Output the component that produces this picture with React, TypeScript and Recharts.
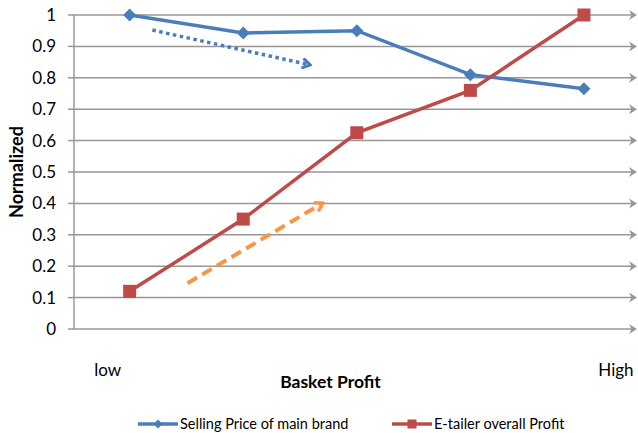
import { LineChart, Line, XAxis, YAxis, CartesianGrid, Legend, Label } from "recharts";

const categories = ["low", "", "", "", "High"];
const sellingPrice = [1, 0.943, 0.95, 0.81, 0.765];
const etailerProfit = [0.12, 0.35, 0.625, 0.76, 1];
const yTicks = [0, 0.1, 0.2, 0.3, 0.4, 0.5, 0.6, 0.7, 0.8, 0.9, 1];

// trend arrows drawn over the chart
const priceTrendX = [0.2, 1.59];
const priceTrendY = [0.952, 0.841];
const profitTrendX = [0.51, 1.7];
const profitTrendY = [0.146, 0.401];

const BLUE = "#4a7ebb";
const RED = "#be4b48";
const ORANGE = "#f79646";
const GRID = "#979797";
const FONT = "Lato, 'Liberation Sans', sans-serif";

const data = categories.map((c, i) => ({
  x: i,
  name: c,
  price: sellingPrice[i],
  profit: etailerProfit[i],
}));
const priceTrend = priceTrendX.map((x, i) => ({ x, y: priceTrendY[i] }));
const profitTrend = profitTrendX.map((x, i) => ({ x, y: profitTrendY[i] }));

const Diamond = (props: any) => {
  const { cx, cy } = props;
  if (cx == null || cy == null) return null;
  const r = 6.5;
  return (
    <polygon
      points={`${cx},${cy - r} ${cx + r},${cy} ${cx},${cy + r} ${cx - r},${cy}`}
      fill={BLUE}
    />
  );
};

const Square = (props: any) => {
  const { cx, cy } = props;
  if (cx == null || cy == null) return null;
  const r = 6.5;
  return <rect x={cx - r} y={cy - r} width={r * 2} height={r * 2} fill={RED} />;
};

const GridLine = (props: any) => {
  const { x1, y1, x2, y2 } = props;
  return (
    <g key={props.key ?? `${y1}`}>
      <line x1={x1} y1={y1} x2={x2 - 3} y2={y2} stroke={GRID} strokeWidth={1.5} />
      <polygon
        points={`${x2},${y2} ${x2 - 8},${y2 - 5} ${x2 - 5.5},${y2} ${x2 - 8},${y2 + 5}`}
        fill={GRID}
      />
    </g>
  );
};

const XTick = (props: any) => {
  const { x, y, payload } = props;
  const label = categories[payload.value] ?? "";
  const dx = payload.value === 0 ? -22 : 32;
  return (
    <text x={x + dx} y={y + 39} textAnchor="middle" fontFamily={FONT} fontSize={17} fill="#000">
      {label}
    </text>
  );
};

const LegendContent = () => {
  const items = [
    { name: "Selling Price of main brand", color: BLUE, shape: "diamond" },
    { name: "E-tailer overall Profit", color: RED, shape: "square" },
  ];
  return (
    <div style={{ display: "flex", paddingLeft: 138, fontFamily: FONT, fontSize: 14.5, color: "#000" }}>
      {items.map((it, i) => (
        <div key={it.name} style={{ display: "flex", alignItems: "center", width: i === 0 ? 254 : "auto" }}>
          <svg width={40} height={12} style={{ marginRight: 2 }}>
            <line x1={0} y1={6} x2={40} y2={6} stroke={it.color} strokeWidth={3.5} />
            {it.shape === "diamond" ? (
              <polygon points="20,1.5 24.5,6 20,10.5 15.5,6" fill={it.color} />
            ) : (
              <rect x={15.5} y={1.5} width={9} height={9} fill={it.color} />
            )}
          </svg>
          <span>{it.name}</span>
        </div>
      ))}
    </div>
  );
};

export default function App() {
  return (
    <div style={{ position: "absolute", left: 0, top: 0, width: 638, height: 433, background: "#fff" }}>
      <LineChart width={638} height={433} margin={{ top: 15, right: 1, bottom: 0, left: 0 }}>
        <defs>
          <marker id="arrowBlue" viewBox="0 0 12 12" refX={10} refY={6} markerWidth={12} markerHeight={12}
            markerUnits="userSpaceOnUse" orient="auto">
            <path d="M2,1 L10,6 L2,11" fill="none" stroke={BLUE} strokeWidth={3} />
          </marker>
          <marker id="arrowOrange" viewBox="0 0 12 12" refX={10} refY={6} markerWidth={12} markerHeight={12}
            markerUnits="userSpaceOnUse" orient="auto">
            <path d="M2,1 L10,6 L2,11" fill="none" stroke={ORANGE} strokeWidth={3.5} />
          </marker>
        </defs>
        <CartesianGrid vertical={false} horizontal={GridLine} />
        <XAxis
          dataKey="x"
          type="number"
          domain={[-0.49, 4.467]}
          ticks={[0, 4]}
          allowDataOverflow
          axisLine={false}
          tickLine={false}
          tick={XTick}
          height={87}
        >
          <Label
            content={(p: any) => {
              const vb = p.viewBox;
              return (
                <text x={vb.x + vb.width / 2 - 25} y={vb.y + 59} textAnchor="middle"
                  fontFamily={FONT} fontSize={17.5} fontWeight="bold" fill="#000">
                  Basket Profit
                </text>
              );
            }}
          />
        </XAxis>
        <YAxis
          domain={[0, 1]}
          ticks={yTicks}
          width={74}
          axisLine={{ stroke: GRID, strokeWidth: 1.5 }}
          tickLine={{ stroke: GRID, strokeWidth: 1.5 }}
          tickSize={6}
          tickMargin={12}
          tick={{ fill: "#000", fontSize: 17, fontFamily: FONT }}
        >
          <Label
            content={(p: any) => {
              const vb = p.viewBox;
              const cy = vb.y + vb.height / 2;
              return (
                <text x={16} y={cy} transform={`rotate(-90 16 ${cy})`} textAnchor="middle"
                  dominantBaseline="central" fontFamily={FONT} fontSize={18} fontWeight="bold" fill="#000">
                  Normalized
                </text>
              );
            }}
          />
        </YAxis>
        <Legend verticalAlign="bottom" content={LegendContent} wrapperStyle={{ left: 0, width: 638, bottom: 1 }} />
        <Line
          data={data}
          dataKey="price"
          name="Selling Price of main brand"
          stroke={BLUE}
          strokeWidth={3.5}
          dot={Diamond}
          activeDot={false}
          isAnimationActive={false}
        />
        <Line
          data={data}
          dataKey="profit"
          name="E-tailer overall Profit"
          stroke={RED}
          strokeWidth={3.5}
          dot={Square}
          activeDot={false}
          isAnimationActive={false}
        />
        <Line
          data={priceTrend}
          dataKey="y"
          stroke={BLUE}
          strokeWidth={3.5}
          strokeDasharray="3.5 3.5"
          dot={false}
          activeDot={false}
          legendType="none"
          markerEnd="url(#arrowBlue)"
          isAnimationActive={false}
        />
        <Line
          data={profitTrend}
          dataKey="y"
          stroke={ORANGE}
          strokeWidth={4}
          strokeDasharray="11 6"
          dot={false}
          activeDot={false}
          legendType="none"
          markerEnd="url(#arrowOrange)"
          isAnimationActive={false}
        />
      </LineChart>
    </div>
  );
}
